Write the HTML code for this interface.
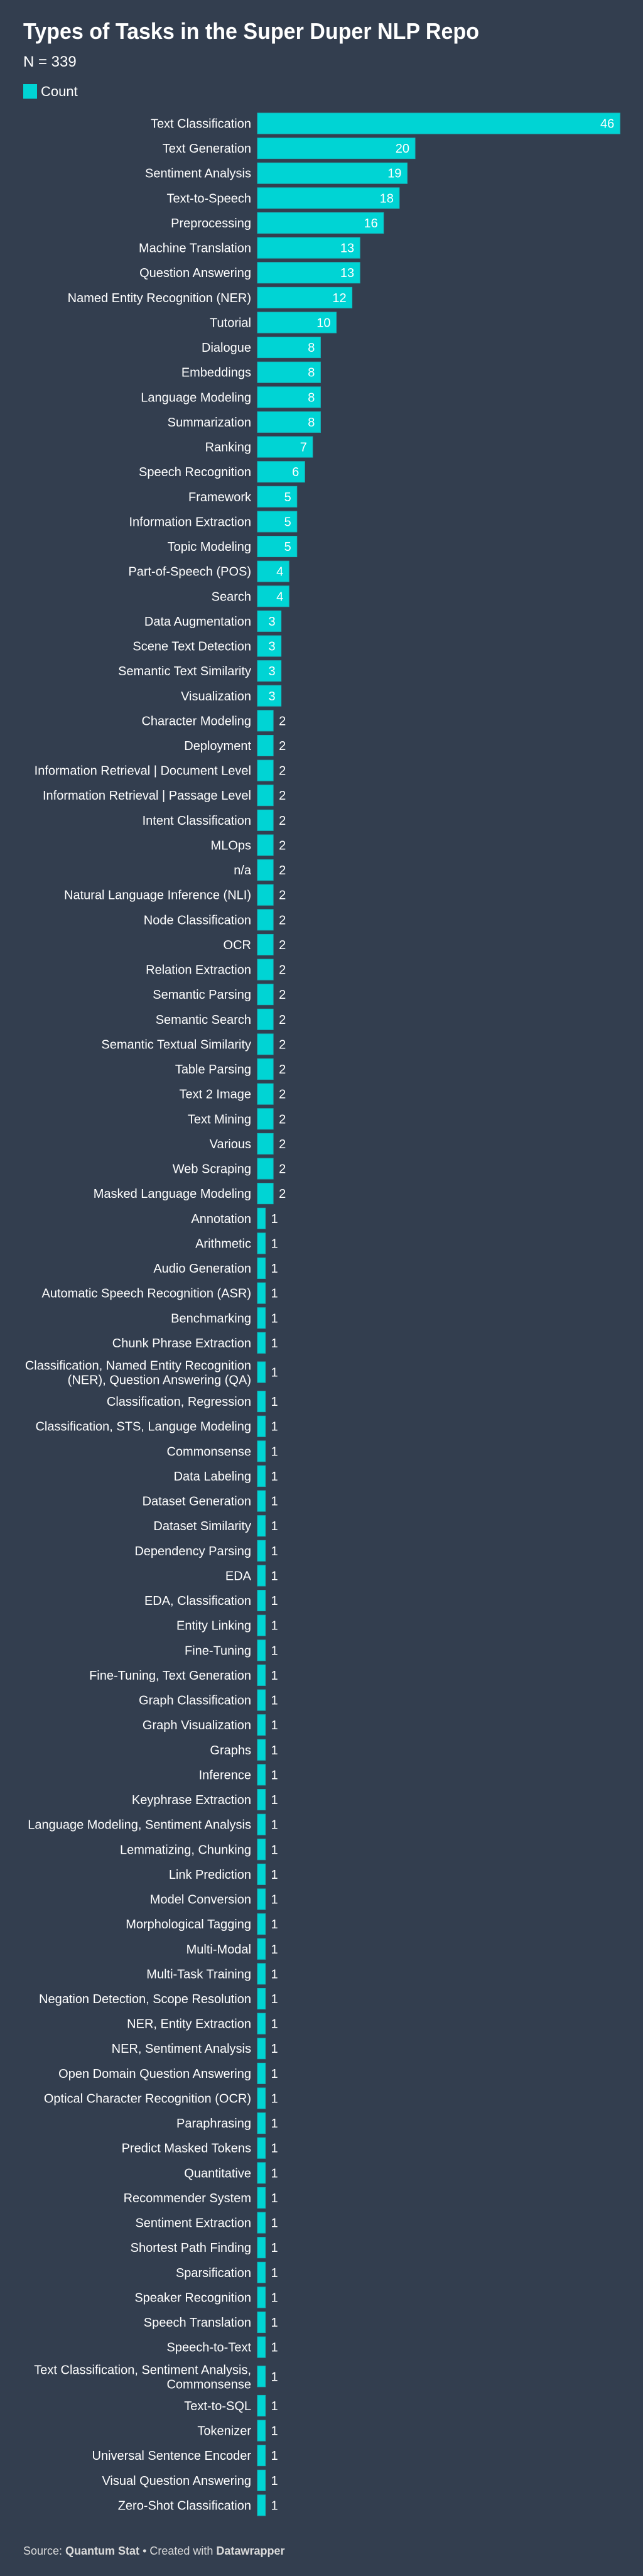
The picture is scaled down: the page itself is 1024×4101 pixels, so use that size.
<!DOCTYPE html>
<html><head><meta charset="utf-8"><style>
html,body{margin:0;padding:0;background:#333e4f;}
svg{display:block;font-family:"Liberation Sans",Arial,sans-serif;}
</style></head>
<body>
<svg id="chart" width="1024" height="4101" xmlns="http://www.w3.org/2000/svg">
<rect width="1024" height="4101" fill="#333e4f"/>
<text x="37" y="62" font-size="36" font-weight="bold" fill="#ffffff" textLength="726" lengthAdjust="spacingAndGlyphs">Types of Tasks in the Super Duper NLP Repo</text>
<text x="37" y="106" font-size="24" fill="#ffffff">N = 339</text>
<rect x="37" y="134" width="22" height="23" fill="#00d4d4"/>
<text x="65" y="153" font-size="22" fill="#ffffff">Count</text>
<g id="bars"></g>
<text x="37" y="4067" font-size="18" fill="#dcdcdc">Source: <tspan font-weight="bold">Quantum Stat</tspan> • Created with <tspan font-weight="bold">Datawrapper</tspan></text>
</svg>
<script>
const categories = ["Text Classification","Text Generation","Sentiment Analysis","Text-to-Speech","Preprocessing","Machine Translation","Question Answering","Named Entity Recognition (NER)","Tutorial","Dialogue","Embeddings","Language Modeling","Summarization","Ranking","Speech Recognition","Framework","Information Extraction","Topic Modeling","Part-of-Speech (POS)","Search","Data Augmentation","Scene Text Detection","Semantic Text Similarity","Visualization","Character Modeling","Deployment","Information Retrieval | Document Level","Information Retrieval | Passage Level","Intent Classification","MLOps","n/a","Natural Language Inference (NLI)","Node Classification","OCR","Relation Extraction","Semantic Parsing","Semantic Search","Semantic Textual Similarity","Table Parsing","Text 2 Image","Text Mining","Various","Web Scraping","Masked Language Modeling","Annotation","Arithmetic","Audio Generation","Automatic Speech Recognition (ASR)","Benchmarking","Chunk Phrase Extraction","Classification, Named Entity Recognition\n(NER), Question Answering (QA)","Classification, Regression","Classification, STS, Languge Modeling","Commonsense","Data Labeling","Dataset Generation","Dataset Similarity","Dependency Parsing","EDA","EDA, Classification","Entity Linking","Fine-Tuning","Fine-Tuning, Text Generation","Graph Classification","Graph Visualization","Graphs","Inference","Keyphrase Extraction","Language Modeling, Sentiment Analysis","Lemmatizing, Chunking","Link Prediction","Model Conversion","Morphological Tagging","Multi-Modal","Multi-Task Training","Negation Detection, Scope Resolution","NER, Entity Extraction","NER, Sentiment Analysis","Open Domain Question Answering","Optical Character Recognition (OCR)","Paraphrasing","Predict Masked Tokens","Quantitative","Recommender System","Sentiment Extraction","Shortest Path Finding","Sparsification","Speaker Recognition","Speech Translation","Speech-to-Text","Text Classification, Sentiment Analysis,\nCommonsense","Text-to-SQL","Tokenizer","Universal Sentence Encoder","Visual Question Answering","Zero-Shot Classification"];
const counts = [46,20,19,18,16,13,13,12,10,8,8,8,8,7,6,5,5,5,4,4,3,3,3,3,2,2,2,2,2,2,2,2,2,2,2,2,2,2,2,2,2,2,2,2,1,1,1,1,1,1,1,1,1,1,1,1,1,1,1,1,1,1,1,1,1,1,1,1,1,1,1,1,1,1,1,1,1,1,1,1,1,1,1,1,1,1,1,1,1,1,1,1,1,1,1,1];

const NS = "http://www.w3.org/2000/svg";
const x0 = 410, pxPerUnit = 12.55, barH = 33, pitch = 39.62, extra = 7;
function xScale(v){ return v * pxPerUnit; }
const g = document.getElementById("bars");
let y = 180;
categories.forEach((cat, i) => {
  const lines = cat.split("\n");
  if (lines.length > 1) y += extra;
  const v = counts[i];
  const w = xScale(v);
  const r = document.createElementNS(NS, "rect");
  r.setAttribute("x", x0); r.setAttribute("y", y);
  r.setAttribute("width", w); r.setAttribute("height", barH);
  r.setAttribute("fill", "#00d4d4");
  r.setAttribute("stroke", "#12b8bd"); r.setAttribute("stroke-width", "1");
  
  
  g.appendChild(r);
  const cy = y + barH / 2;
  const t = document.createElementNS(NS, "text");
  t.setAttribute("x", 400); t.setAttribute("text-anchor", "end");
  t.setAttribute("font-size", "20"); t.setAttribute("fill", "#ffffff");
  
  
  if (lines.length === 1) {
    t.setAttribute("y", cy + 7); t.textContent = cat;
  } else {
    lines.forEach((ln, k) => {
      const ts = document.createElementNS(NS, "tspan");
      ts.setAttribute("x", 400);
      ts.setAttribute("y", cy - 11 + k * 23 + 7);
      ts.textContent = ln;
      t.appendChild(ts);
    });
  }
  g.appendChild(t);
  const vl = document.createElementNS(NS, "text");
  vl.setAttribute("font-size", "20"); vl.setAttribute("y", cy + 7);
  vl.setAttribute("fill", "#ffffff");
  if (v >= 3) { vl.setAttribute("x", x0 + w - 9); vl.setAttribute("text-anchor", "end"); }
  else { vl.setAttribute("x", x0 + w + 9); }
  vl.textContent = v;
  
  
  g.appendChild(vl);
  y += pitch;
  if (lines.length > 1) y += extra;
});
</script>
</body></html>
